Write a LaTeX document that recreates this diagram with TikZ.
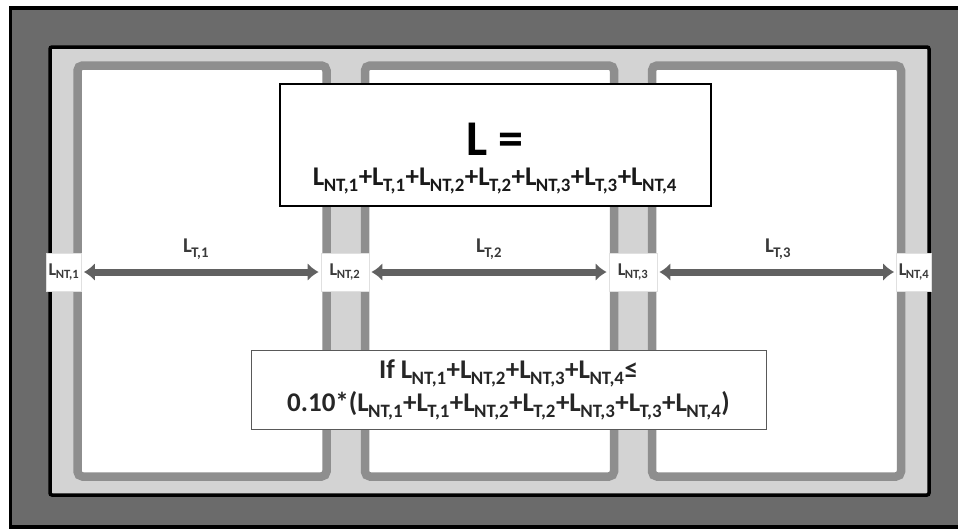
\documentclass[tikz,border=0pt]{standalone}
\usepackage{fontspec}
\setmainfont{Carlito}
\usetikzlibrary{arrows.meta}
\definecolor{wallDark}{HTML}{6B6B6B}
\definecolor{slab}{HTML}{D3D3D3}
\definecolor{rim}{HTML}{8E8E8E}
\definecolor{inkSoft}{HTML}{3A3A3A}
\newcommand{\LL}[1]{L\kern-0.6pt\raisebox{-0.07em}{\textsubscript{#1}}}
\newcommand{\sumAll}{\LL{NT,1}+\LL{T,1}+\LL{NT,2}+\LL{T,2}+\LL{NT,3}+\LL{T,3}+\LL{NT,4}}
\tikzset{
  x=1pt,y=-1pt,
  room/.style={draw=rim,line width=8.5pt,fill=white,rounded corners=5pt},
  gapbox/.style={fill=white,draw=black!12,line width=0.8pt,minimum width=48pt,minimum height=38pt,inner sep=0pt,font=\bfseries\fontsize{18}{18}\selectfont,text=inkSoft},
  span/.style={draw=rim!68!black,line width=7pt,{Latex[length=11pt,width=18pt]}-{Latex[length=11pt,width=18pt]},shorten >=2pt,shorten <=2pt},
  spanlabel/.style={font=\bfseries\fontsize{21}{21}\selectfont,text=inkSoft,inner sep=0pt},
  bigbox/.style={draw=black,line width=2pt,fill=white,minimum width=431pt,minimum height=122pt,inner sep=0pt},
  condbox/.style={draw=black!65,line width=1pt,fill=white,minimum width=515pt,minimum height=79pt,inner sep=0pt,align=center,text=black!85,font=\bfseries\fontsize{27}{33}\selectfont}
}
\begin{document}
\begin{tikzpicture}
\useasboundingbox (0,0) rectangle (958,531);
\fill[white] (0,0) rectangle (958,531);
\fill[wallDark] (9,7) rectangle (958,527);
\draw[black,line width=3.5pt] (958,8) -- (10.5,8) -- (10.5,527) -- (958,527);
\draw[black,line width=3.5pt,fill=slab,rounded corners=2pt] (50,47) rectangle (929,495);
\draw[room] (77.5,65.5) rectangle (326.5,476.5);
\draw[room] (365,65.5) rectangle (614,476.5);
\draw[room] (652,65.5) rectangle (901,476.5);
\node[gapbox,minimum width=35pt] (nt1) at (64,272) {\LL{NT,1}};
\node[gapbox] (nt2) at (345,272) {\LL{NT,2}};
\node[gapbox] (nt3) at (633,272) {\LL{NT,3}};
\node[gapbox,minimum width=35pt] (nt4) at (914,272) {\LL{NT,4}};
\draw[span] (nt1) -- (nt2);
\draw[span] (nt2) -- (nt3);
\draw[span] (nt3) -- (nt4);
\node[spanlabel] (t1) at (196,249) {\LL{T,1}};
\node[spanlabel] (t2) at (489,249) {\LL{T,2}};
\node[spanlabel] (t3) at (778,249) {\LL{T,3}};
\node[bigbox] (total) at (495,145) {};
\node[font=\bfseries\fontsize{50}{50}\selectfont,inner sep=0pt] (eq) at (495,139) {L =};
\node[font=\bfseries\fontsize{27}{27}\selectfont,inner sep=0pt,text=black!90] (sum) at (495,181) {\sumAll};
\node[condbox] (cond) at (508.5,390) {If \LL{NT,1}+\LL{NT,2}+\LL{NT,3}+\LL{NT,4}≤\\0.10*(\sumAll)};
\end{tikzpicture}
\end{document}
